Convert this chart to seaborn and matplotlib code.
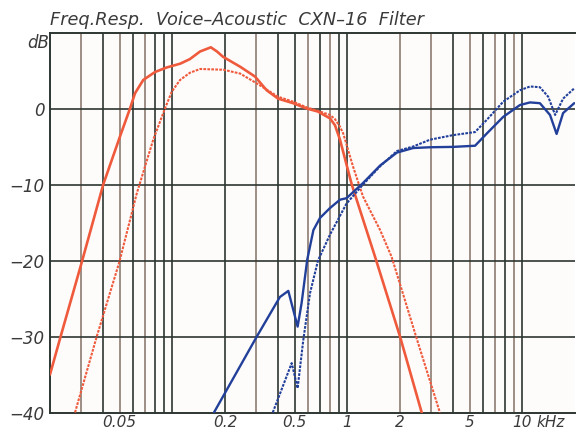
import matplotlib
matplotlib.use("Agg")
import matplotlib.pyplot as plt
import seaborn as sns
import pandas as pd

# Frequency response of the CXN-16 crossover (frequencies in kHz, levels in dB)
woofer_f = [0.020, 0.023, 0.0304, 0.0403, 0.0502, 0.0573, 0.0612, 0.0682, 0.0796,
            0.0929, 0.111, 0.126, 0.144, 0.166, 0.180, 0.195, 0.244, 0.297, 0.346,
            0.402, 0.49, 0.586, 0.679, 0.796, 0.85, 0.908, 1.06, 1.44, 2.0, 2.66]
woofer_db = [-35, -30, -20.2, -10, -3.7, 0, 2.0, 3.75, 4.8,
             5.4, 5.9, 6.5, 7.5, 8.05, 7.5, 6.8, 5.5, 4.2, 2.4,
             1.3, 0.7, 0, -0.4, -1.3, -2.2, -4.1, -10, -19.5, -30, -40]

woofer_filt_f = [0.0278, 0.037, 0.0498, 0.0626, 0.0778, 0.0908, 0.0992, 0.1107, 0.126,
                 0.144, 0.196, 0.244, 0.304, 0.402, 0.49, 0.586, 0.698, 0.796, 0.85,
                 0.908, 0.948, 1.08, 1.23, 1.54, 1.79, 2.05, 2.47, 3.38]
woofer_filt_db = [-40, -30, -20.2, -11.2, -4.1, 0, 2.2, 3.75, 4.7,
                  5.2, 5.1, 4.6, 3.3, 1.55, 0.9, 0.15, -0.4, -0.85, -1.4,
                  -2.4, -3.3, -7.7, -11.6, -16, -19.5, -23.9, -30, -40]

tweeter_f = [0.173, 0.304, 0.412, 0.46, 0.52, 0.548, 0.59, 0.64, 0.698, 0.796, 0.908,
             0.99, 1.23, 1.54, 1.92, 2.38, 2.97, 4.03, 5.37, 6.26, 7.78, 9.7,
             11.07, 12.6, 14.4, 15.7, 17.1, 19.8]
tweeter_db = [-40, -30, -24.8, -24, -28.7, -25.6, -19.9, -16, -14.4, -13.1, -12.0,
              -11.8, -9.8, -7.5, -5.8, -5.2, -5.1, -5.05, -4.9, -3.3, -1.1, 0.46,
              0.8, 0.7, -0.85, -3.35, -0.6, 0.7]

tweeter_filt_f = [0.375, 0.481, 0.52, 0.56, 0.612, 0.68, 0.796, 0.99, 1.23, 1.54,
                  1.92, 2.38, 2.97, 4.03, 5.37, 6.26, 7.78, 9.7, 11.07, 12.6,
                  14.06, 15.4, 17.1, 19.8]
tweeter_filt_db = [-40, -33.5, -36.8, -30.5, -24.3, -20, -16.6, -12.5, -10, -7.6,
                   -5.6, -5.0, -4.1, -3.5, -3.1, -1.5, 0.9, 2.4, 2.9, 2.8,
                   1.55, -0.85, 1.3, 2.65]

x_ticks = [0.05, 0.2, 0.5, 1, 2, 5, 10]
x_tick_labels = ["0.05", "0.2", "0.5", "1", "2", "5", "10"]
y_ticks = [0, -10, -20, -30, -40]
y_tick_labels = ["0", "\u221210", "\u221220", "\u221230", "\u221240"]

RED = "#ef5a3c"
BLUE = "#22409a"
DARK = "#2e3632"
BROWN = "#8c7c72"
TEXT = "#3a3a3a"

sns.set_style("white")
plt.rcParams["font.family"] = ["DejaVu Sans"]

fig = plt.figure(figsize=(5.76, 4.33), dpi=100)
fig.patch.set_facecolor("white")
ax = fig.add_axes([50 / 576, 20.5 / 433, 525 / 576, 380 / 433])
ax.set_facecolor("#fefcfb")
ax.set_xscale("log")
ax.set_xlim(0.02, 20)
ax.set_ylim(-40, 10)

# logarithmic frequency grid, alternating dark and brownish lines
grid_lines = {
    0.03: BROWN, 0.04: DARK, 0.05: BROWN, 0.06: DARK, 0.07: BROWN, 0.08: DARK,
    0.09: DARK, 0.1: DARK, 0.2: DARK, 0.3: BROWN, 0.4: DARK, 0.5: DARK,
    0.6: BROWN, 0.7: DARK, 0.8: BROWN, 0.9: DARK, 1: DARK, 2: BROWN,
    3: BROWN, 4: DARK, 5: BROWN, 6: DARK, 7: BROWN, 8: DARK, 9: BROWN, 10: DARK,
}
for f, c in grid_lines.items():
    ax.axvline(f, color=c, lw=1.2, zorder=1)
for lvl in [0, -10, -20, -30]:
    ax.axhline(lvl, color=DARK, lw=1.2, zorder=1)

curves = [
    (woofer_f, woofer_db, RED, "-", 1.9),
    (woofer_filt_f, woofer_filt_db, RED, (0, (1.3, 0.6)), 1.5),
    (tweeter_f, tweeter_db, BLUE, "-", 1.7),
    (tweeter_filt_f, tweeter_filt_db, BLUE, (0, (1.3, 0.6)), 1.5),
]
for fx, fy, col, ls, lw in curves:
    df = pd.DataFrame({"kHz": fx, "dB": fy})
    sns.lineplot(data=df, x="kHz", y="dB", ax=ax, color=col, linestyle=ls,
                 linewidth=lw, sort=True, estimator=None, zorder=3)

for side in ["left", "bottom", "top"]:
    ax.spines[side].set_color(DARK)
    ax.spines[side].set_linewidth(1.4)
ax.spines["right"].set_visible(False)

ax.set_xticks(x_ticks)
ax.set_xticklabels(x_tick_labels)
ax.xaxis.set_minor_locator(matplotlib.ticker.NullLocator())
ax.set_yticks(y_ticks)
ax.set_yticklabels(y_tick_labels)
ax.tick_params(axis="y", length=0, labelsize=12, colors=TEXT, pad=4)
ax.tick_params(axis="x", length=0, labelsize=11, colors=TEXT, pad=2)
for lab in ax.get_xticklabels() + ax.get_yticklabels():
    lab.set_style("italic")
ax.set_xlabel("")
ax.set_ylabel("")

fig.text(49 / 576, 1 - 43 / 433, "dB", style="italic", fontsize=12,
         color=TEXT, ha="right", va="center")
fig.text(536 / 576, 1 - 415 / 433, "kHz", style="italic", fontsize=11,
         color=TEXT, ha="left", va="top")
fig.text(50 / 576, 1 - 25 / 433, "Freq.Resp.  Voice\u2013Acoustic  CXN\u201316  Filter",
         style="italic", fontsize=12.8, color=TEXT, ha="left", va="baseline")

fig.savefig("out.png", dpi=100, facecolor="white")
